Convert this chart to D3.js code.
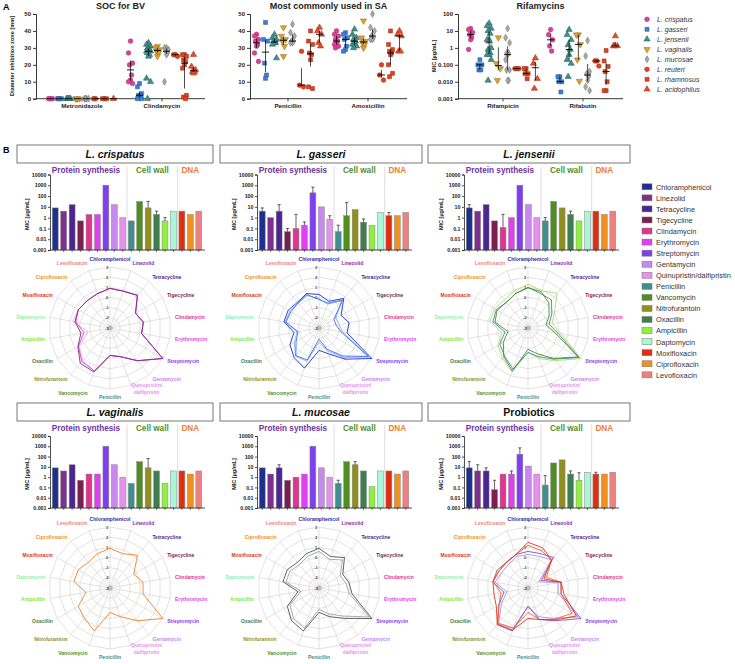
<!DOCTYPE html>
<html><head><meta charset="utf-8">
<script src="https://cdn.jsdelivr.net/npm/d3@7"></script>
<style>body{margin:0;background:#fff} svg{display:block;font-family:"Liberation Sans",Arial,sans-serif}</style>
</head><body><svg id="c" width="735" height="664"></svg>
<script>
// ---------------- DATA: panel A ----------------
const speciesNames = ["L. crispatus","L. gasseri","L. jensenii","L. vaginalis","L. mucosae","L. reuteri","L. rhamnosus","L. acidophilus"];
const speciesColors = ["#e0409a","#3a80d8","#3f8f8a","#e0a030","#a8a8a8","#e8401a","#e3401c","#e84a2a"];
const speciesShapes = ["circle","square","triangle","triangleDown","diamond","circle","square","triangle"];

const zoneMetronidazole = [[0,0,0],[0,0,0,0],[0,0,0,0,0],[0,0,0,0],[0,0,0,0],[0,0],[0,0,0],[0]];
const zoneClindamycin = [
 [34,27,21,20,14,11,10,9],
 [9,7,3,2,2,1,0,0],
 [33,32,31,30,29,29,28,28,27,26,25,12,10,0],
 [31,30,29,28,27,25],
 [30,30,29,28,27,26,10],
 [26,26,25],
 [26,26,25,23,22,20,18,2,1,0],
 [26,19,17,16,16,15]];
const zonePenicillin = [
 [38,37,35,34,32,31,27,22],
 [45,35,34,21,14,12],
 [38,36,35,34,33,33,32,24],
 [42,37,35,34,31,25],
 [44,39,37,34,34,33,33],
 [28,8,7],
 [40,34,32,27,26,23,7,6],
 [42,40,38,33,31]];
const zoneAmoxicillin = [
 [40,38,37,35,34,33,32,31,30],
 [39,38,36,35,31,29,28],
 [41,38,36,35,34,33,32,31,30],
 [46,36,34,33,32,30],
 [50,42,40,37,36,35,35],
 [20,14,11],
 [40,32,29,28,27,26,20,15,13],
 [40,38,37,28,28]];
const micRifampicin = [
 [14,12,8,6,4,3,0.8],
 [0.2,0.1,0.1,0.05,0.05],
 [28,20,14,10,7,3,3,1,0.8,0.5,0.4,0.4,0.2,0.012],
 [4,0.12,0.06,0.012],
 [14,4,2,0.5,0.5,0.4,0.2,0.05,0.05,0.012,0.012],
 [0.06,0.06,0.06],
 [0.06,0.06,0.03,0.03,0.015],
 [0.25,0.12,0.015,0.004]];
const micRifabutin = [
 [12,6,3,1.3,0.65],
 [0.02,0.02,0.01,0.01,0.0025],
 [12,6,3,1.5,0.8,0.4,0.2,0.12,0.02],
 [6,6,1.6,0.2,0.011],
 [2.7,0.33,0.04,0.03,0.02,0.012,0.005,0.003],
 [0.17,0.17,0.085],
 [0.7,0.17,0.08,0.04,0.01,0.003,0.003],
 [5,1.3,1.3,1.3]];
const zoneTicks = [0,10,20,30,40,50];
const micTicks = [0.001,0.01,0.1,1,10,100];
const micTickLabels = ["0.001","0.010","0.100","1","10","100"];

// ---------------- DATA: panel B ----------------
const antibiotics = ["Chloramphenicol","Linezolid","Tetracycline","Tigecycline","Clindamycin","Erythromycin","Streptomycin","Gentamycin","Quinupristin/dalfipristin","Penicillin","Vancomycin","Nitrofurantoin","Oxacillin","Ampicillin","Daptomycin","Moxifloxacin","Ciprofloxacin","Levofloxacin"];
const antibioticColors = ["#1f2f8f","#7f2f8f","#4b2590","#7a1f4f","#e0358f","#e040f0","#7f3ff0","#c888f0","#e890f0","#3f8f8f","#4f8f1f","#8f8f1f","#3f7f4f","#8ff03f","#a8f8d8","#e02f0f","#f09020","#f08080"];
const radarLabelColors = ["#2a2aa8","#8a2a9a","#4b2590","#7a1f4f","#e0358f","#e040f0","#7f3ff0","#c888f0","#e890f0","#3f8f8f","#4f8f1f","#8f8f1f","#3f7f4f","#7fe83f","#8ff0b0","#e02f0f","#f09020","#f08080"];
const mechanismGroups = ["Protein synthesis","Cell wall","DNA"];
const mechanismColors = ["#7030a0","#4f8f2f","#ed7d31"];
const mechanismSizes = [9,6,3];
const barTicks = [0.001,0.01,0.1,1,10,100,1000,10000];
const panelTitles = ["L. crispatus","L. gasseri","L. jensenii","L. vaginalis","L. mucosae","Probiotics"];

const barCrispatus = [8,4,16,0.5,2,2,1024,16,1,0.5,32,8,2,0.5,4,4,2,4];
const errCrispatus = [0,0,0,0,0,0,0,0,0,0,0,32,4,1,0,0,0,0];
const barGasseri = [4,1,4,0.05,0.1,0.2,200,10,0.7,0.05,1.5,5.6,0.38,0.19,3,1.5,1.5,3];
const errGasseri = [8,0,16,0.1,2,0.4,680,0,1.5,0.2,25,0,0.76,0,0,3,0,0];
const barJensenii = [8,4,16,0.5,0.125,1,1024,16,1,0.5,32,8,2,0.5,4,4,2,4];
const errJensenii = [16,0,0,0,2,0,0,0,0,1,0,0,4,0,0,0,0,0];
const barVaginalis = [8,4,16,0.5,2,2,1024,16,1,0.25,32,8,4,0.25,4,4,2,4];
const errVaginalis = [0,0,0,0,0,0,0,0,0,0,0,64,0,0,0,0,0,0];
const barMucosae = [8,2,8,0.5,1,2,1024,8,1,0.25,32,16,4,0.12,4,4,2,4];
const errMucosae = [0,0,16,0,0,0,0,0,0,0.5,0,32,0,0,0,0,0,0];
const barProbiotics = [8,4,4,0.06,2,2,170,12,2,0.17,24,48,2,0.5,3,2,2,3];
const errProbiotics = [32,16,8,0.5,0,4,700,0,0,1.4,0,0,4,2.7,0,3,0,0];

// radar series: log10(MIC) per strain, same antibiotic order
const radarCrispatusA = [0.9,0.85,1.2,-0.1,0.33,0.16,3.0,1.2,0.0,-0.3,1.6,1.55,0.65,-0.1,0.5,0.6,0.5,0.6];
const radarCrispatusB = [0.9,0.85,1.2,-0.1,0.33,0.16,3.0,1.2,0.0,-0.3,1.5,1.3,0.6,-0.4,0.4,0.6,0.5,0.6];
const radarCrispatusC = [0.9,0.85,1.2,-0.1,0.33,0.16,3.0,1.2,0.0,-0.3,1.5,1.2,0.5,-0.8,0.7,0.6,0.5,0.6];
const radarGasseriA = [0.3,-0.2,0.8,-0.5,0.0,-0.2,3.0,1.0,-0.3,-0.8,1.2,0.8,0.3,-0.5,0.5,0.5,0.3,0.6];
const radarGasseriB = [-0.2,-0.4,0.6,-1.3,-1.3,-0.8,2.6,0.6,-0.8,-1.9,0.35,0.55,-0.4,-0.9,0.3,0.2,0.2,0.5];
const radarGasseriC = [-0.1,-0.5,0.5,-1.1,-1.0,-0.6,2.7,0.8,-0.6,-1.6,0.5,0.6,-0.2,-0.8,0.4,0.3,0.2,0.4];
const radarJenseniiA = [0.95,0.8,0.2,-0.6,-1.2,-0.3,2.7,0.9,-0.3,-0.9,1.5,0.7,-0.2,-1.0,0.3,0.5,0.3,0.6];
const radarJenseniiB = [1.0,0.6,0.6,-0.3,-0.9,0.0,2.8,1.0,0.0,-0.6,1.3,0.6,0.2,-0.7,0.5,0.6,0.3,0.6];
const radarJenseniiC = [1.3,0.9,1.45,0.0,-0.6,0.3,3.0,1.2,0.2,-0.6,1.6,0.9,0.4,-0.4,0.8,0.8,0.6,0.9];
const radarVaginalisA = [0.9,0.6,1.2,-0.3,0.3,0.3,3.0,1.2,0.0,-0.6,1.5,0.9,0.6,-0.6,0.6,0.6,0.3,0.6];
const radarMucosaeA = [0.9,0.3,0.9,-0.3,0.0,0.3,3.0,0.9,0.0,-0.6,1.5,1.2,0.6,-0.9,0.6,0.6,0.3,0.6];
const radarMucosaeB = [0.6,0.0,0.6,-0.6,-0.3,0.0,2.7,0.6,-0.3,-0.9,1.2,0.9,0.3,-1.2,0.3,0.3,0.0,0.3];
const radarProbioticsA = [1.5,1.2,0.6,-1.2,0.3,0.6,2.5,1.1,0.3,0.0,1.4,1.7,0.6,0.4,0.5,0.5,0.3,0.5];
const radarProbioticsB = [1.2,0.9,0.6,-0.9,0.3,0.3,2.0,1.0,0.3,-0.6,1.2,1.6,0.3,-0.3,0.5,0.3,0.3,0.5];
const radarProbioticsC = [0.6,0.6,0.9,-1.5,0.3,0.3,3.0,1.2,0.3,-1.2,1.5,1.7,0.3,-0.6,0.5,0.3,0.3,0.5];
const radarProbioticsD = [0.3,0.3,0.6,-1.8,0.0,0.0,2.7,0.9,0.0,-1.2,1.2,1.5,0.0,-0.9,0.3,0.0,0.0,0.3];

const panelBars = [barCrispatus,barGasseri,barJensenii,barVaginalis,barMucosae,barProbiotics];
const panelErrs = [errCrispatus,errGasseri,errJensenii,errVaginalis,errMucosae,errProbiotics];
const panelRadars = [
 [[radarCrispatusC,"#f0a8e8"],[radarCrispatusB,"#e040c0"],[radarCrispatusA,"#7b2d8e"]],
 [[radarGasseriC,"#90b0f0"],[radarGasseriB,"#3a6ae0"],[radarGasseriA,"#1a2ad0"]],
 [[radarJenseniiC,"#b0d870"],[radarJenseniiB,"#3a8a8a"],[radarJenseniiA,"#4a8a2a"]],
 [[radarVaginalisA,"#f08020"]],
 [[radarMucosaeB,"#a0a0a0"],[radarMucosaeA,"#505050"]],
 [[radarProbioticsD,"#b090e0"],[radarProbioticsC,"#8050c0"],[radarProbioticsB,"#f06030"],[radarProbioticsA,"#e03020"]]
];

// ---------------- DRAW ----------------
const svg = d3.select("#c");
const ink = "#222";
svg.append("text").attr("x",3).attr("y",10).attr("font-size",9).attr("font-weight","bold").text("A");
svg.append("text").attr("x",3).attr("y",153).attr("font-size",9).attr("font-weight","bold").text("B");

const symTypes = {circle:d3.symbolCircle,square:d3.symbolSquare,triangle:d3.symbolTriangle,triangleDown:d3.symbolTriangle,diamond:d3.symbolDiamond};
function marker(g, x, y, k){
  const s = speciesShapes[k];
  const size = s==="diamond"?14:(s==="square"?16:17);
  g.append("path").attr("d", d3.symbol(symTypes[s], size)())
   .attr("transform", `translate(${x},${y})` + (s==="triangleDown"?" rotate(180)":""))
   .attr("fill", speciesColors[k]).attr("stroke", d3.color(speciesColors[k]).darker(1.2)).attr("stroke-width",0.5);
}

function scatterPlot(cfg){
  const g = svg.append("g");
  const y = cfg.log ? d3.scaleLog().domain([0.001,100]).range([98.7,14]) : d3.scaleLinear().domain([0,50]).range([98.7,14]);
  const xg = d3.scaleBand().domain(cfg.groups).range(cfg.range);
  const ya = d3.axisLeft(y).tickValues(cfg.log?micTicks:zoneTicks).tickSize(3).tickPadding(2)
     .tickFormat((d,i)=> cfg.log? micTickLabels[i] : d);
  g.append("g").attr("transform",`translate(${cfg.x0},0)`).call(ya)
   .call(a=>{a.selectAll("text").attr("font-size",6).attr("font-weight","bold").attr("fill",ink);a.selectAll("line,path").attr("stroke",ink).attr("stroke-width",0.9);});
  g.append("line").attr("x1",cfg.x0).attr("x2",cfg.x1).attr("y1",98.7).attr("y2",98.7).attr("stroke",ink).attr("stroke-width",0.9);
  cfg.groups.forEach((grp,gi)=>{
    const cx = xg(grp)+xg.bandwidth()/2;
    g.append("line").attr("x1",cx).attr("x2",cx).attr("y1",98.7).attr("y2",101.5).attr("stroke",ink).attr("stroke-width",0.8);
    g.append("text").attr("x",cx).attr("y",108).attr("text-anchor","middle").attr("font-size",6.2).attr("font-weight","bold").attr("fill",ink).text(grp);
    const xs = d3.scaleBand().domain(d3.range(8)).range([cx-cfg.half, cx+cfg.half]);
    cfg.data[gi].forEach((vals,k)=>{
      const sx = xs(k)+xs.bandwidth()/2;
      vals.forEach((v,j)=>{
        const off = [0,-2,2,-1,1][j%5];
        marker(g, sx+off, y(v), k);
      });
      const sorted = vals.slice().sort(d3.ascending);
      const med = d3.quantile(sorted,0.5), q1 = d3.quantile(sorted,0.25), q3 = d3.quantile(sorted,0.75);
      g.append("line").attr("x1",sx-3.5).attr("x2",sx+3.5).attr("y1",y(med)).attr("y2",y(med)).attr("stroke","#000").attr("stroke-width",0.9);
      g.append("line").attr("x1",sx).attr("x2",sx).attr("y1",y(q1)).attr("y2",y(q3)).attr("stroke","#000").attr("stroke-width",0.7);
    });
  });
  g.append("text").attr("x",(cfg.x0+cfg.x1)/2).attr("y",9).attr("text-anchor","middle").attr("font-size",9).attr("font-weight","bold").attr("fill",ink).text(cfg.title);
  g.append("text").attr("transform",`translate(${cfg.x0-22},${56}) rotate(-90)`).attr("text-anchor","middle").attr("font-size",5.6).attr("font-weight","bold").attr("fill",ink).text(cfg.ylab);
}
scatterPlot({title:"SOC for BV",groups:["Metronidazole","Clindamycin"],range:[42,202],x0:36,x1:205,half:36,data:[zoneMetronidazole,zoneClindamycin],ylab:"Diameter inhibition zone [mm]"});
scatterPlot({title:"Most commonly used in SA",groups:["Penicillin","Amoxicillin"],range:[248,408],x0:250,x1:407,half:36,data:[zonePenicillin,zoneAmoxicillin],ylab:""});
scatterPlot({title:"Rifamycins",groups:["Rifampicin","Rifabutin"],range:[463,623],x0:458,x1:623,half:37,data:[micRifampicin,micRifabutin],log:true,ylab:"MIC [µg/mL]"});

// legend A
const legA = svg.append("g");
speciesNames.forEach((n,k)=>{
  const yy = 19.3 + k*10;
  marker(legA, 647, yy, k);
  legA.append("text").attr("x",657).attr("y",yy+2.4).attr("font-size",7).attr("font-style","italic").attr("fill","#333").text(n);
});

// legend B
const legB = svg.append("g");
antibiotics.forEach((n,i)=>{
  const yy = 187 + i*11.06;
  legB.append("rect").attr("x",642).attr("y",yy-3.2).attr("width",10).attr("height",6).attr("fill",antibioticColors[i]).attr("stroke","#777").attr("stroke-width",0.5);
  legB.append("text").attr("x",656).attr("y",yy+2.7).attr("font-size",7.4).attr("fill","#333").text(n);
});

// panels B
const boxX = [[17,213],[220,422],[428,630]];
const rows = [{box:[145,163],lab:172.5,yTop:174.5,yBot:250,cy:328},{box:[403,421],lab:430.5,yTop:436,yBot:508,cy:588}];
const rScale = d3.scaleLinear().domain([-3,3]).range([0,61]);
const angle = d3.scaleLinear().domain([0,18]).range([0,2*Math.PI]);

panelTitles.forEach((title,p)=>{
  const c = p%3, r = Math.floor(p/3);
  const row = rows[r];
  const ox = 207*c;
  const g = svg.append("g");
  g.append("rect").attr("x",boxX[c][0]).attr("y",row.box[0]).attr("width",boxX[c][1]-boxX[c][0]).attr("height",row.box[1]-row.box[0]).attr("fill","#fff").attr("stroke","#555").attr("stroke-width",0.8);
  g.append("text").attr("x",(boxX[c][0]+boxX[c][1])/2).attr("y",(row.box[0]+row.box[1])/2+3.6).attr("text-anchor","middle").attr("font-size",10.5).attr("font-weight","bold").attr("font-style",p===5?"normal":"italic").attr("fill","#111").text(title);

  const x = d3.scaleBand().domain(antibiotics).range([51+ox,203+ox]).paddingInner(0.3).paddingOuter(0.15);
  const y = d3.scaleLog().domain([0.001,10000]).range([row.yBot,row.yTop]);
  [9,15].forEach(i=>{
    const sx = (x(antibiotics[i-1])+x.bandwidth()+x(antibiotics[i]))/2;
    g.append("line").attr("x1",sx).attr("x2",sx).attr("y1",row.lab-6).attr("y2",row.yBot).attr("stroke","#d0d0d0").attr("stroke-width",0.7);
  });
  let start = 0;
  mechanismGroups.forEach((m,mi)=>{
    const a = antibiotics[start], b = antibiotics[start+mechanismSizes[mi]-1];
    const mx = (x(a)+x(b)+x.bandwidth())/2 + (mi===0?-3:0);
    g.append("text").attr("x",mx).attr("y",row.lab).attr("text-anchor","middle").attr("font-size",8.2).attr("font-weight","bold").attr("fill",mechanismColors[mi]).text(m);
    start += mechanismSizes[mi];
  });
  const vals = panelBars[p], errs = panelErrs[p];
  g.selectAll(".bar").data(antibiotics).enter().append("rect")
   .attr("x",d=>x(d)).attr("width",x.bandwidth())
   .attr("y",(d,i)=>y(vals[i])).attr("height",(d,i)=>row.yBot-y(vals[i]))
   .attr("fill",(d,i)=>antibioticColors[i]).attr("stroke","#888").attr("stroke-width",0.5);
  antibiotics.forEach((d,i)=>{
    if(errs[i]>0){
      const bx = x(d)+x.bandwidth()/2;
      g.append("line").attr("x1",bx).attr("x2",bx).attr("y1",y(vals[i])).attr("y2",y(errs[i])).attr("stroke","#222").attr("stroke-width",0.7);
      g.append("line").attr("x1",bx-1.6).attr("x2",bx+1.6).attr("y1",y(errs[i])).attr("y2",y(errs[i])).attr("stroke","#222").attr("stroke-width",0.7);
    }
  });
  const ya = d3.axisLeft(y).tickValues(barTicks).tickFormat(d=>String(d)).tickSize(2).tickPadding(1.5);
  g.append("g").attr("transform",`translate(${50+ox},0)`).call(ya)
   .call(a=>{a.selectAll("text").attr("font-size",5.3).attr("font-weight","bold").attr("fill",ink);a.selectAll("line,path").attr("stroke",ink).attr("stroke-width",0.8);});
  g.append("text").attr("transform",`translate(${29+ox},${(row.yTop+row.yBot)/2+2}) rotate(-90)`).attr("text-anchor","middle").attr("font-size",5.5).attr("font-weight","bold").attr("fill",ink).text("MIC [µg/mL]");
  const xa = d3.axisBottom(x).tickSize(2).tickFormat("");
  g.append("g").attr("transform",`translate(0,${row.yBot})`).call(xa)
   .call(a=>{a.selectAll("line").attr("stroke",ink).attr("stroke-width",0.6);a.select("path").attr("stroke",ink).attr("stroke-width",0.8).attr("d",`M${50+ox},0H${205+ox}`);});

  const cx = 110 + 209*c, cy = row.cy;
  const rg = g.append("g").attr("transform",`translate(${cx},${cy})`);
  d3.range(-2,4).forEach(v=>{
    const pts = antibiotics.map((d,i)=>[rScale(v)*Math.sin(angle(i)), -rScale(v)*Math.cos(angle(i))]);
    rg.append("path").attr("d", d3.line().curve(d3.curveLinearClosed)(pts)).attr("fill","none").attr("stroke","#cfcfcf").attr("stroke-width",0.6);
  });
  antibiotics.forEach((d,i)=>{
    rg.append("line").attr("x1",0).attr("y1",0).attr("x2",rScale(3)*Math.sin(angle(i))).attr("y2",-rScale(3)*Math.cos(angle(i))).attr("stroke","#cfcfcf").attr("stroke-width",0.6);
  });
  rg.append("circle").attr("r",2.5).attr("fill","#bbb");
  d3.range(-3,4).forEach(v=>{
    rg.append("text").attr("x",-3).attr("y",-rScale(v)+1.5).attr("text-anchor","middle").attr("font-size",4).attr("font-weight","bold").attr("fill","#444").text(v);
  });
  panelRadars[p].forEach(([series,col])=>{
    const line = d3.lineRadial().curve(d3.curveLinearClosed).angle((v,i)=>angle(i)).radius(v=>rScale(v));
    rg.append("path").attr("d",line(series)).attr("fill","none").attr("stroke",col).attr("stroke-width",0.9);
  });
  antibiotics.forEach((d,i)=>{
    const a = angle(i), R = 66;
    const sx = R*Math.sin(a), sy = -R*Math.cos(a);
    const anchor = Math.sin(a)>0.2?"start":(Math.sin(a)<-0.2?"end":"middle");
    const dy = Math.cos(a)>0.8? -1 : (Math.cos(a)<-0.8? 5 : 2);
    if(i===8){
      const t = rg.append("text").attr("font-size",5).attr("font-weight","bold").attr("fill",radarLabelColors[i]).attr("text-anchor","middle");
      t.append("tspan").attr("x",sx+14).attr("y",sy-3).text("Quinupristin/");
      t.append("tspan").attr("x",sx+14).attr("y",sy+4).text("dalfipristin");
    } else {
      rg.append("text").attr("x",sx).attr("y",sy+dy).attr("text-anchor",anchor).attr("font-size",5).attr("font-weight","bold").attr("fill",radarLabelColors[i]).text(d);
    }
  });
});
</script></body></html>
